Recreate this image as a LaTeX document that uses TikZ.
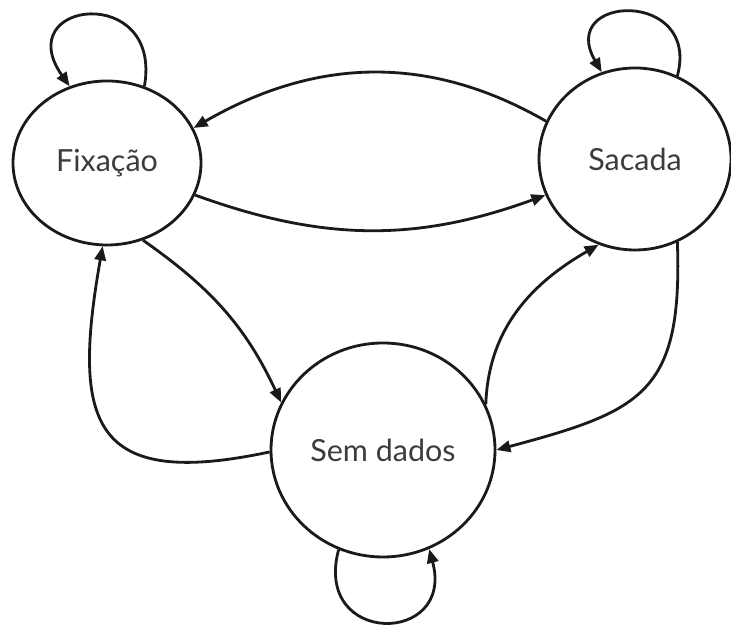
\documentclass[tikz,border=0pt]{standalone}
\usepackage{fontspec}
\setmainfont{Lato}
\usepackage{tikz}
\usetikzlibrary{arrows.meta,shapes.geometric}
\definecolor{Ink}{HTML}{1A1A1A}

\begin{document}
\begin{tikzpicture}[
    x=0.03cm, y=0.03cm,
    state/.style={
      ellipse,
      draw=Ink,
      line width=2.4pt,
      inner sep=0pt,
      font=\fontsize{26}{31}\selectfont,
      text=Ink!85
    },
    trans/.style={
      draw=Ink,
      line width=2.4pt,
      -{Triangle[length=0.42cm,width=0.34cm]}
    }
  ]
  \useasboundingbox (0,0) rectangle (731,626);
  \node[state, minimum width=5.64cm, minimum height=4.92cm] (fixacao) at (107,463) {Fixação};
  \node[state, minimum width=5.76cm, minimum height=5.46cm] (sacada) at (635,467) {Sacada};
  \node[state, minimum width=6.72cm, minimum height=6.42cm] (semdados) at (383,176) {Sem dados};

  \draw[trans] (sacada.157) to[out=150,in=30] (fixacao.22);
  \draw[trans] (fixacao.-20) to[out=-20,in=200] (sacada.202);
  \draw[trans] (fixacao.-65) to[out=-35,in=115] (semdados.155);
  \draw[trans] (semdados.181) to[out=192,in=-100,looseness=1.75] (fixacao.-93);
  \draw[trans] (semdados.24) to[out=88,in=210] (sacada.247);
  \draw[trans] (sacada.297) to[out=-88,in=15,looseness=1.4] (semdados.0);

  \draw[trans] (fixacao.64) .. controls +(80:105) and +(125:105) .. (fixacao.116);
  \draw[trans] (sacada.63) .. controls +(75:90) and +(120:90) .. (sacada.111);
  \draw[trans] (semdados.246) .. controls +(-105:100) and +(-75:100) .. (semdados.295);
\end{tikzpicture}
\end{document}
